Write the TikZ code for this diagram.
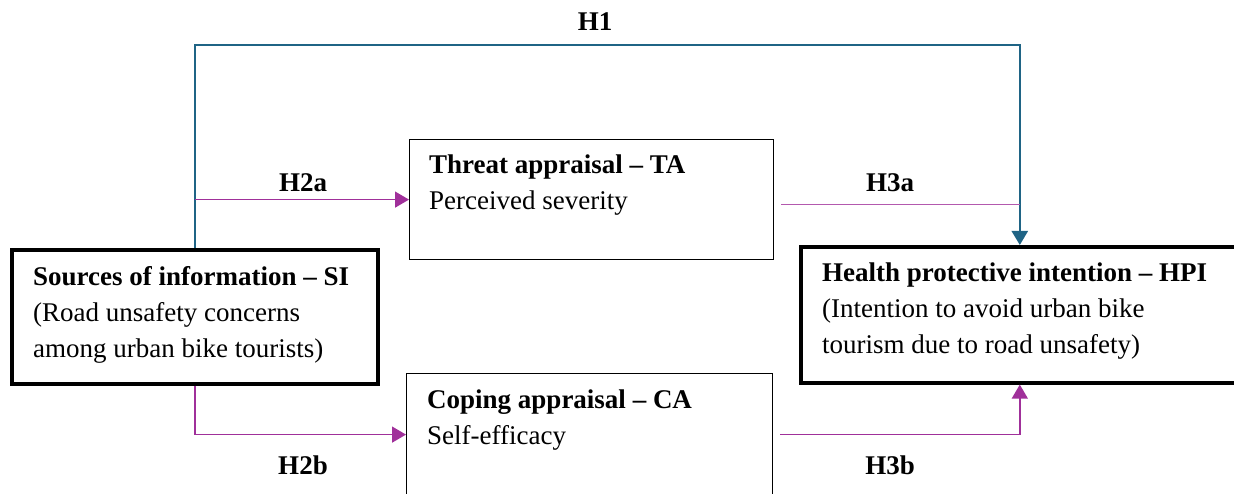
\documentclass[tikz,border=0pt]{standalone}
\usepackage{fontspec}
\setmainfont{Liberation Serif}
\usetikzlibrary{arrows.meta,positioning}
\definecolor{hteal}{HTML}{1F6485}
\definecolor{hmag}{HTML}{A0309A}
\tikzset{
	thickbox/.style={draw=black,line width=3.6pt,anchor=north west},
	thinbox/.style={draw=black,line width=1.2pt,anchor=north west},
	boxtext/.style={anchor=north west,inner sep=0pt,align=left,font=\fontsize{27}{36}\selectfont},
	hlabel/.style={font=\fontsize{27}{36}\selectfont\bfseries,inner sep=1pt},
	tealpath/.style={draw=hteal,line width=2.4pt,-{Triangle[length=14pt,width=16pt]}},
	magpath/.style={draw=hmag,line width=1.4pt,-{Triangle[length=14pt,width=16pt]}},
	magline/.style={draw=hmag!80,line width=1.4pt}
}

\begin{document}
\begin{tikzpicture}[x=1pt,y=1pt]
			%%%%% START %%%%%
			\def\W{1234}
			\def\H{493}
			\def\htop{448}
			\def\gap{7}
			
			\clip (0,0) rectangle (\W,\H);
			
			% boxes
			\node[thickbox,minimum width=366,minimum height=134] (si) at (10,245) {};
			\node[thinbox,minimum width=364,minimum height=120] (ta) at (409,354) {};
			\node[thinbox,minimum width=366,minimum height=122] (ca) at (406,120) {};
			\node[thickbox,minimum width=438,minimum height=136] (hpi) at (799,248) {};
			
			% box texts
			\node[boxtext] (sitext) at (33,227) {\textbf{Sources of information -- SI}\\(Road unsafety concerns\\among urban bike tourists)};
			\node[boxtext] (tatext) at (429,338) {\textbf{Threat appraisal -- TA}\\Perceived severity};
			\node[boxtext] (catext) at (427,103) {\textbf{Coping appraisal -- CA}\\Self-efficacy};
			\node[boxtext] (hpitext) at (822,230) {\textbf{Health protective intention -- HPI}\\(Intention to avoid urban bike\\tourism due to road unsafety)};
			
			% paths
			\coordinate (top) at (0,\htop);
			\draw[tealpath] (si.north) -- (si.north |- top) -| (hpi.north);
			\draw[magpath] (si.north |- ta.west) -- (ta.west);
			\draw[magline] ([shift={(\gap,-5)}]ta.east) coordinate (tae) -- (tae -| hpi.north);
			\draw[magpath] (si.south) |- (ca.west);
			\draw[magpath] ([xshift=\gap]ca.east) -| (hpi.south);
			
			% labels
			\node[hlabel] (hone) at (595,471) {H1};
			\node[hlabel] (htwoa) at (303,310) {H2a};
			\node[hlabel] (hthreea) at (890,310) {H3a};
			\node[hlabel] (htwob) at (303,28) {H2b};
			\node[hlabel] (hthreeb) at (890,28) {H3b};
			%%%%% END %%%%%
\end{tikzpicture}
\end{document}
